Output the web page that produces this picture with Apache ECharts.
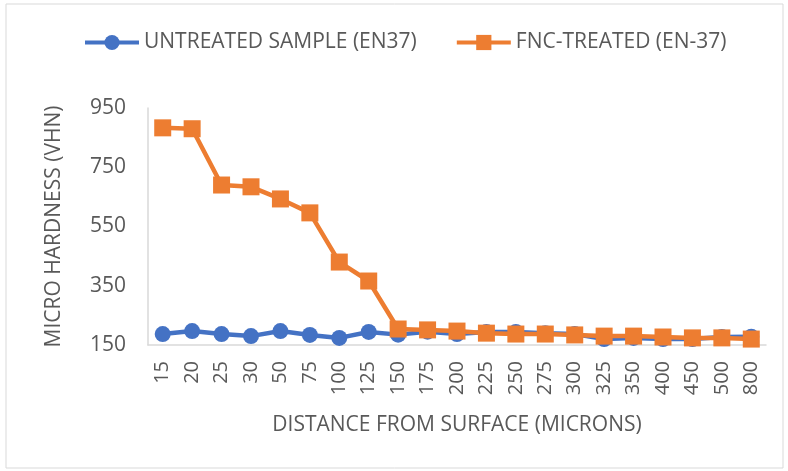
<!DOCTYPE html>
<html>
<head>
<meta charset="utf-8">
<script src="https://cdn.jsdelivr.net/npm/echarts@6/dist/echarts.min.js"></script>
<style>
html,body{margin:0;padding:0;background:#fff;}
#chart{width:788px;height:471px;}
</style>
</head>
<body>
<div id="chart"></div>
<script>
const categories = ['15','20','25','30','50','75','100','125','150','175','200','225','250','275','300','325','350','400','450','500','800'];
const untreated = [187,197,187,180,197,184,174,194,185,195,187,194,194,190,187,170,174,170,170,177,178];
const fncTreated = [883,880,690,684,643,596,430,366,204,201,197,190,187,187,184,180,180,177,174,174,170];
const yTicks = {min:150, max:950, interval:200};

const FONT = 'Open Sans';
const TXT = '#595959';
const chart = echarts.init(document.getElementById('chart'), null, {renderer:'canvas'});
chart.setOption({
  animation:false,
  backgroundColor:'#fff',
  graphic:[{type:'rect', shape:{x:6,y:4,width:777,height:464}, style:{fill:'none', stroke:'#d9d9d9', lineWidth:1}, silent:true}],
  legend:{
    left:83, top:32, padding:0, itemWidth:54, itemHeight:19, itemGap:38,
    lineStyle:{width:4},
    textStyle:{color:TXT, fontFamily:FONT, fontSize:21},
    data:['UNTREATED SAMPLE (EN37)','FNC-TREATED (EN-37)']
  },
  grid:{left:148, right:22, top:108, bottom:126, containLabel:false},
  xAxis:{
    type:'category', data:categories, boundaryGap:true,
    name:'DISTANCE FROM SURFACE (MICRONS)', nameLocation:'middle', nameGap:70,
    nameTextStyle:{color:TXT, fontFamily:FONT, fontSize:21},
    axisLine:{show:true, lineStyle:{color:'#d9d9d9', width:1.5}},
    axisTick:{show:false},
    axisLabel:{rotate:90, interval:0, margin:16, color:TXT, fontFamily:FONT, fontSize:20},
    splitLine:{show:false}
  },
  yAxis:{
    type:'value', min:yTicks.min, max:yTicks.max, interval:yTicks.interval,
    name:'MICRO HARDNESS (VHN)', nameLocation:'middle', nameGap:83,
    nameTextStyle:{color:TXT, fontFamily:FONT, fontSize:21},
    axisLine:{show:true, lineStyle:{color:'#d9d9d9', width:1.5}},
    axisTick:{show:false},
    axisLabel:{margin:22, color:TXT, fontFamily:FONT, fontSize:21},
    splitLine:{show:false}
  },
  series:[
    {name:'UNTREATED SAMPLE (EN37)', type:'line', data:untreated, symbol:'circle', symbolSize:16,
     itemStyle:{color:'#4472C4'}, lineStyle:{color:'#4472C4', width:4.5}},
    {name:'FNC-TREATED (EN-37)', type:'line', data:fncTreated, symbol:'rect', symbolSize:17,
     itemStyle:{color:'#ED7D31'}, lineStyle:{color:'#ED7D31', width:4.5}}
  ]
});
</script>
</body>
</html>
